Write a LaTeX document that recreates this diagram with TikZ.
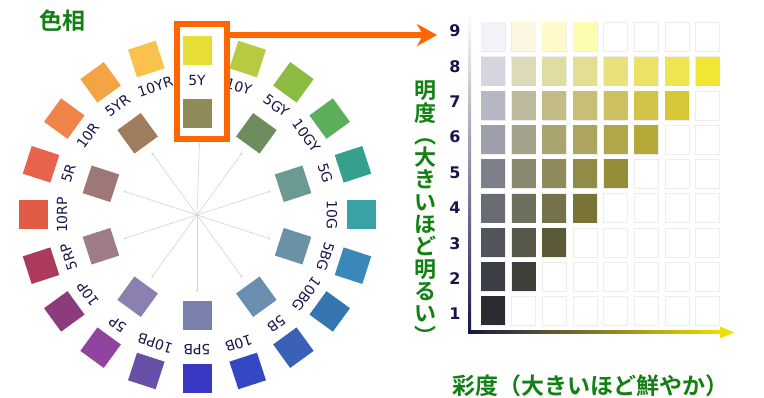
\documentclass[tikz,border=0pt]{standalone}
\usepackage{fontspec}
\setmainfont{DejaVu Sans}
\newfontfamily\jpb{Noto Sans CJK JP Bold}
\usetikzlibrary{arrows.meta,calc}
\definecolor{navy}{HTML}{16164A}
\definecolor{jgreen}{RGB}{18,128,18}
\definecolor{orng}{HTML}{FF6600}
\definecolor{axyellow}{HTML}{EEE000}
\definecolor{spokec}{HTML}{D4D4D4}
\begin{document}
\begin{tikzpicture}[x=1pt,y=1pt,
  sq/.style={minimum size=29pt, inner sep=0pt, outer sep=0pt},
  hlabel/.style={font=\fontsize{14}{14}\selectfont, text=navy, inner sep=0pt},
  spoke/.style={draw=spokec, line width=0.6pt, -{Stealth[length=3pt,width=2.6pt]}},
  cellbox/.style={minimum width=24pt, minimum height=29pt, inner sep=0pt, outer sep=0pt},
  emptycell/.style={cellbox, fill=white, draw=black!7, line width=0.8pt},
  axlabel/.style={font=\bfseries\fontsize{17}{17}\selectfont, text=navy, inner sep=0pt},
  rowlabel/.style={font=\bfseries\fontsize{16}{16}\selectfont, text=navy, inner sep=0pt},
  jtitle/.style={font=\jpb\fontsize{23}{23}\selectfont, text=jgreen, inner sep=0pt}
]
\useasboundingbox (0,-398) rectangle (764,0);
\fill[white] (0,-398) rectangle (764,0);

% ---------- hue wheel ----------
\coordinate (C) at (197,-215);
\foreach \ang/\lab/\hx [count=\i] in {
  90/5Y/E6DE34, 72/10Y/B8CA42, 54/5GY/8CBB42, 36/10GY/5CAF5A, 18/5G/35A08E,
  0/10G/38A2A4, -18/5BG/3A88BA, -36/10BG/3676B0, -54/5B/3A60B8, -72/10B/3448C4,
  -90/5PB/3838C4, -108/10PB/6650A8, -126/5P/9044A0, -144/10P/8C3C7C, -162/5RP/AC3A5A,
  180/10RP/E05A44, 162/5R/E8624C, 144/10R/EE8448, 126/5YR/F5A444, 108/10YR/F8C24C}{
  \definecolor{tmpc}{HTML}{\hx}
  \node[sq, fill=tmpc, rotate=\ang-90] (o\i) at ($(C)+(\ang:164)$) {};
  \node[hlabel, rotate=\ang-90] (l\i) at ($(C)+(\ang:135)$) {\lab};
}
\foreach \ang/\hx [count=\i] in {
  90/908A58, 54/6E8C5E, 18/6A9A92, -18/6A92A4, -54/6A8EB0,
  -90/7A80AC, -126/8C80B0, -162/A07C88, 162/9C7876, 126/A07C5E}{
  \definecolor{tmpc}{HTML}{\hx}
  \node[sq, fill=tmpc, rotate=\ang-90] (in\i) at ($(C)+(\ang:101)$) {};
}
\foreach \i in {2,...,10}{
  \draw[spoke, shorten >=9pt] (C) -- (in\i);
}
\node[draw=orng, line width=6pt, minimum width=50pt, minimum height=115pt, inner sep=0pt] (box) at (201.5,-82) {};
\draw[spoke] (C) -- (box);

% orange arrow
\coordinate (atip) at (437,-35);
\draw[orng, line width=6pt, -{Stealth[length=20pt,width=22pt,inset=6pt]}] (box.east |- atip) -- (atip);

% title
\node[jtitle] (hue) at (62,-21) {色相};

% ---------- value / chroma chart ----------
\foreach \k in {1,...,9}{
  \foreach \j in {0,...,7}{
    \node[emptycell] (e-\k-\j) at (493+\j*30.65, -311+\k*34.25-34.25) {};
  }
}
\foreach \k/\lst in {
  9/{F2F2F8,FCF7E0,FEFACA,FEFCB0},
  8/{D4D5DE,DCDAB9,E0DDA2,E4DE92,E8E17C,ECE366,EFE550,F1E632},
  7/{B5B8C2,BDBA9E,C3BC88,C8BE76,CDC060,D2C44A,D7C736},
  6/{9DA0AB,A4A28A,A9A470,ADA55E,B1A74A,B5A938},
  5/{7E8089,8A886F,8E8A5A,918B48,958C38},
  4/{6A6C74,6F6F5E,75714A,7A7338},
  3/{52545C,57574A,5C5A36},
  2/{3C3E46,40403A},
  1/{2B2D33}}{
  \foreach \hx [count=\j from 0] in \lst {
    \definecolor{tmpc}{HTML}{\hx}
    \node[cellbox, fill=tmpc] (f-\k-\j) at (493+\j*30.65, -311+\k*34.25-34.25) {};
  }
}
% axes
\shade[top color=white, bottom color=navy] (468,-334) rectangle (471,-12);
\shade[left color=navy, right color=axyellow] (468,-334) rectangle (722,-331);
\fill[axyellow] (720,-326.5) -- (734,-332.5) -- (720,-338.5) -- cycle;

\foreach \t/\x [count=\i] in {/0/484, /2/518, /4/549, /6/582, /8/616, /10/648, /12/681, /14/712}{
  \node[axlabel] (xl\i) at (\x,-347) {\t};
}
\foreach \k in {1,...,9}{
  \node[rowlabel] (yl\k) at (455,-314+\k*35.375-35.375) {\k};
}

\node[jtitle, align=center, font=\jpb\fontsize{22}{22.3}\selectfont] (vtitle) at (425,-212.5)
  {明\\度\\︵\\大\\き\\い\\ほ\\ど\\明\\る\\い\\︶};
\node[jtitle] (ctitle) at (590,-386) {彩度（大きいほど鮮やか）};
\end{tikzpicture}
\end{document}
